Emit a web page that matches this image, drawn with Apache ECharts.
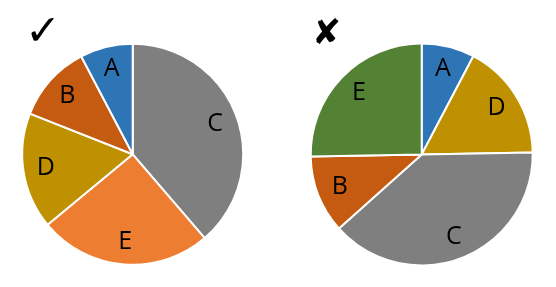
<!DOCTYPE html>
<html>
<head>
<meta charset="utf-8">
<script src="https://cdn.jsdelivr.net/npm/echarts@6/dist/echarts.min.js"></script>
<style>
html,body{margin:0;padding:0;background:#fff;}
#chart{width:556px;height:287px;}
</style>
</head>
<body>
<div id="chart"></div>
<script>
// Good chart (largest slice first, clockwise from top)
var goodCategories = ['C', 'E', 'D', 'B', 'A'];
var goodValues = [38.7, 25.3, 17.0, 11.3, 7.7];
// Bad chart (unordered)
var badCategories = ['A', 'D', 'C', 'B', 'E'];
var badValues = [7.7, 17.0, 38.7, 11.3, 25.3];
var titles = ['\u2713', '\u2718'];

var colorMap = {
  good: { A: '#2E75B6', B: '#C55A11', C: '#7F7F7F', D: '#BF9000', E: '#ED7D31' },
  bad:  { A: '#2E75B6', B: '#C55A11', C: '#7F7F7F', D: '#BF9000', E: '#548235' }
};

function buildData(cats, vals, cmap) {
  return cats.map(function (c, i) {
    return { name: c, value: vals[i], itemStyle: { color: cmap[c] } };
  });
}
function buildLabelData(cats, vals) {
  return cats.map(function (c, i) { return { name: c, value: vals[i] }; });
}

function pieSeries(center, radius, data) {
  return {
    type: 'pie', center: center, radius: [0, radius],
    startAngle: 90, clockwise: true, silent: true,
    itemStyle: { borderColor: '#ffffff', borderWidth: 2 },
    label: { show: false }, labelLine: { show: false },
    emphasis: { disabled: true },
    data: data
  };
}
function labelSeries(center, data) {
  return {
    type: 'pie', center: center, radius: [58, 112],
    startAngle: 90, clockwise: true, silent: true,
    itemStyle: { color: 'rgba(0,0,0,0)', borderWidth: 0 },
    label: {
      show: true, position: 'inside', formatter: '{b}',
      color: '#000', fontSize: 25, fontFamily: 'Open Sans'
    },
    labelLine: { show: false },
    emphasis: { disabled: true },
    data: data
  };
}

var chart = echarts.init(document.getElementById('chart'), null, { renderer: 'canvas' });
chart.setOption({
  backgroundColor: '#ffffff',
  animation: false,
  title: [
    { text: titles[0], left: 25, top: 12, padding: 0,
      textStyle: { fontSize: 43, fontFamily: 'DejaVu Sans', fontWeight: 'bold', color: '#000' } },
    { text: titles[1], left: 312, top: 17, padding: 0,
      textStyle: { fontSize: 35, fontFamily: 'DejaVu Sans', fontWeight: 'bold', color: '#000' } }
  ],
  series: [
    pieSeries([132.7, 154.3], 110.5, buildData(goodCategories, goodValues, colorMap.good)),
    labelSeries([132.7, 154.3], buildLabelData(goodCategories, goodValues)),
    pieSeries([421.7, 154.5], 111, buildData(badCategories, badValues, colorMap.bad)),
    labelSeries([421.7, 154.5], buildLabelData(badCategories, badValues))
  ]
});
</script>
</body>
</html>
